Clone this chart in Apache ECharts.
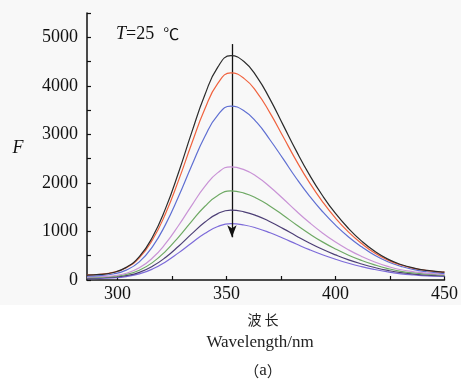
<!DOCTYPE html>
<html><head><meta charset="utf-8">
<script src="https://cdn.jsdelivr.net/npm/echarts@6/dist/echarts.min.js"></script>
<style>html,body{margin:0;padding:0;background:#fff}#c{width:461px;height:383px}</style>
</head><body><div id="c"></div>
<script>
// Emission wavelengths (nm)
const wavelengths = [286, 292, 298, 304, 310, 316, 322, 328, 334, 340, 346, 352, 358, 364, 370, 376, 382, 388, 394, 400, 406, 412, 418, 424, 430, 436, 442, 448, 450];
// Fluorescence intensity F, curves top to bottom
const curveBlack  = [100, 115, 155, 260, 480, 880, 1470, 2215, 3035, 3805, 4385, 4620, 4500, 4180, 3720, 3190, 2660, 2170, 1740, 1370, 1060, 800, 590, 430, 320, 245, 197, 168, 162];
const curveRed    = [105, 119, 156, 252, 455, 823, 1365, 2052, 2805, 3516, 4049, 4265, 4153, 3861, 3437, 2950, 2460, 2010, 1615, 1274, 987, 750, 554, 409, 309, 238, 194, 167, 162];
const curveBlue   = [80, 92, 123, 204, 374, 684, 1141, 1718, 2352, 2950, 3398, 3580, 3486, 3241, 2884, 2494, 2096, 1733, 1411, 1129, 887, 683, 508, 376, 282, 212, 170, 143, 138];
const curvePink   = [60, 67, 88, 140, 251, 452, 748, 1122, 1533, 1921, 2212, 2330, 2273, 2128, 1917, 1674, 1420, 1184, 970, 782, 621, 485, 371, 280, 211, 170, 138, 120, 116];
const curveGreen  = [50, 56, 72, 113, 200, 358, 591, 885, 1208, 1514, 1742, 1835, 1790, 1680, 1521, 1333, 1139, 953, 785, 639, 511, 402, 311, 236, 179, 145, 120, 104, 100];
const curveDark   = [40, 45, 57, 90, 158, 282, 464, 695, 949, 1188, 1367, 1440, 1405, 1322, 1201, 1058, 908, 764, 632, 517, 415, 330, 257, 197, 151, 122, 100, 88, 85];
const curvePurple = [30, 34, 44, 70, 125, 225, 372, 559, 763, 957, 1101, 1160, 1133, 1067, 972, 859, 741, 625, 520, 427, 345, 275, 216, 167, 128, 104, 86, 76, 74];

const xTickValues = [300, 325, 350, 375, 400, 425, 450];
const xLabelValues = [300, 350, 400, 450];
const yTickValues = [0, 500, 1000, 1500, 2000, 2500, 3000, 3500, 4000, 4500, 5000, 5500];
const yLabelValues = [0, 1000, 2000, 3000, 4000, 5000];
const arrowWavelength = 352.5;
const arrowFrom = 4860;
const arrowTo = 880;

const curves = [
  {name: 'black', data: curveBlack, color: '#2b2b2b'},
  {name: 'red', data: curveRed, color: '#f0623e'},
  {name: 'blue', data: curveBlue, color: '#5f6fd2'},
  {name: 'pink', data: curvePink, color: '#c993d6'},
  {name: 'green', data: curveGreen, color: '#6ea964'},
  {name: 'dark', data: curveDark, color: '#4d3f76'},
  {name: 'purple', data: curvePurple, color: '#7c6ad9'}
];

const serif = '"Liberation Serif", "Times New Roman", serif';
const chart = echarts.init(document.getElementById('c'), null, {renderer: 'canvas'});

const series = curves.map((c, idx) => {
  const s = {
    name: c.name,
    type: 'line',
    data: wavelengths.map((w, i) => [w, c.data[i]]),
    smooth: 0.5,
    showSymbol: false,
    symbol: 'none',
    lineStyle: {color: c.color, width: 1.2},
    itemStyle: {color: c.color},
    z: 10 - idx,
    silent: true,
    animation: false
  };
  if (idx === 0) {
    s.markLine = {
      silent: true,
      animation: false,
      symbol: ['none', 'arrow'],
      symbolSize: [7, 12],
      label: {show: false},
      lineStyle: {color: '#111', width: 1.3, type: 'solid'},
      emphasis: {disabled: true},
      data: [[{coord: [arrowWavelength, arrowFrom]}, {coord: [arrowWavelength, arrowTo]}]]
    };
  }
  return s;
});

chart.setOption({
  backgroundColor: '#ffffff',
  animation: false,
  grid: {left: 87, top: 13, right: 14, bottom: 103, containLabel: false},
  xAxis: {
    type: 'value',
    min: 286,
    max: 450,
    axisLine: {show: true, onZero: false, lineStyle: {color: '#111', width: 1.5}},
    axisTick: {show: true, inside: true, length: 4, customValues: xTickValues, lineStyle: {color: '#111', width: 1.2}},
    axisLabel: {customValues: xLabelValues, formatter: v => String(v), color: '#111', fontFamily: serif, fontSize: 18, margin: 5},
    splitLine: {show: false}
  },
  yAxis: {
    type: 'value',
    min: 0,
    max: 5500,
    axisLine: {show: true, lineStyle: {color: '#111', width: 1.5}},
    axisTick: {show: true, inside: true, length: 4, customValues: yTickValues, lineStyle: {color: '#111', width: 1.2}},
    axisLabel: {customValues: yLabelValues, formatter: v => String(v), color: '#111', fontFamily: serif, fontSize: 18, margin: 9},
    splitLine: {show: false}
  },
  graphic: [
    {type: 'rect', z: -100, silent: true, shape: {x: 0, y: 0, width: 461, height: 305}, style: {fill: '#f8f8f8'}},
    {type: 'text', left: 116, top: 25, silent: true,
      style: {text: '{i|T}=25  {c|℃}', font: '18px ' + serif, fill: '#111',
        rich: {i: {fontStyle: 'italic', fontFamily: serif, fontSize: 18},
               c: {fontFamily: '"Noto Sans CJK SC"', fontSize: 16}}}},
    {type: 'text', x: 18, y: 148, silent: true,
      style: {text: 'F', font: 'italic 18px ' + serif, fill: '#111', align: 'center', verticalAlign: 'middle'}},
    {type: 'text', x: 263, y: 320, silent: true,
      style: {text: '波 长', font: '14px "Noto Sans CJK SC"', fill: '#222', align: 'center', verticalAlign: 'middle'}},
    {type: 'text', x: 260, y: 343, silent: true,
      style: {text: 'Wavelength/nm', font: '17px ' + serif, fill: '#222', align: 'center', verticalAlign: 'middle'}},
    {type: 'text', x: 263, y: 371, silent: true,
      style: {text: '{p|（}a{p|）}', font: '17px ' + serif, fill: '#222', align: 'center', verticalAlign: 'middle',
        rich: {p: {fontFamily: '"Noto Sans CJK SC"', fontSize: 15}}}}
  ],
  series: series
});
</script>
</body></html>
